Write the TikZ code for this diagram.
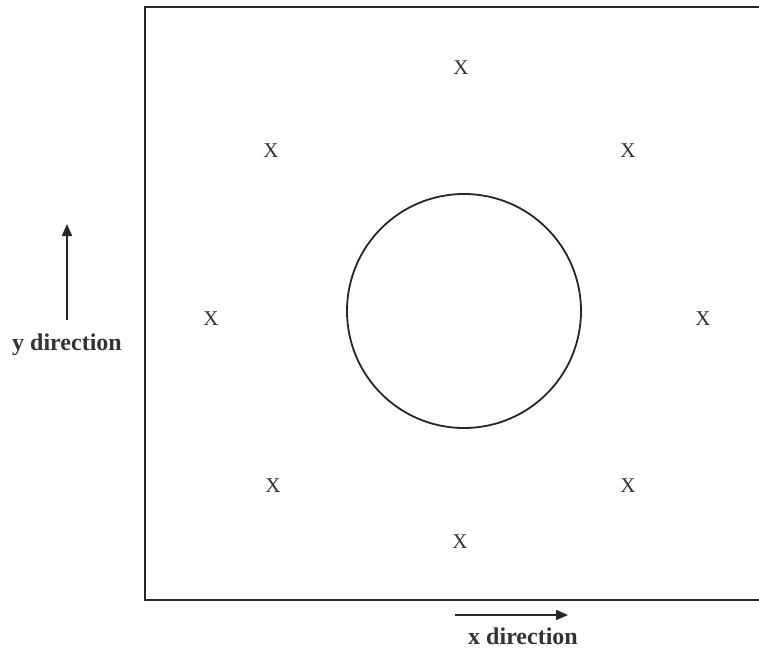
\documentclass[tikz,border=0pt]{standalone}
\usepackage{fontspec}
\setmainfont{Liberation Serif}
\usetikzlibrary{arrows.meta}
\begin{document}
\begin{tikzpicture}[x=1pt,y=-1pt,
  frame/.style={line width=2.4pt,draw=black!85},
  hole/.style={line width=1.8pt,draw=black!85},
  xmark/.style={font=\fontsize{21}{21}\selectfont,inner sep=0pt,text=black!80},
  dirarrow/.style={line width=1.8pt,draw=black!85,-{Triangle[length=12pt,width=10pt]}},
  dirlabel/.style={font=\fontsize{24}{24}\selectfont\bfseries,inner sep=0pt,text=black!80,anchor=base}]
\useasboundingbox (0,0) rectangle (759,650);
% frame (left, top, bottom edges)
\draw[frame] (759,7) -- (145,7) -- (145,600) -- (759,600);
% central hole
\node[hole,circle,minimum size=234pt,inner sep=0pt] (c) at (464,311) {};
% X marks
\node[xmark] (x1) at (461,68) {X};
\node[xmark] (x2) at (271,151) {X};
\node[xmark] (x3) at (628,151) {X};
\node[xmark] (x4) at (211,319) {X};
\node[xmark] (x5) at (703,319) {X};
\node[xmark] (x6) at (273,486) {X};
\node[xmark] (x7) at (628,486) {X};
\node[xmark] (x8) at (460,542) {X};
% direction arrows
\coordinate (ya) at (67,320);
\coordinate (yb) at (67,224);
\draw[dirarrow] (ya) -- (yb);
\node[dirlabel] (yl) at (67,350) {y direction};
\coordinate (xa) at (455,615);
\coordinate (xb) at (568,615);
\draw[dirarrow] (xa) -- (xb);
\node[dirlabel] (xl) at (523,644) {x direction};
\end{tikzpicture}
\end{document}
